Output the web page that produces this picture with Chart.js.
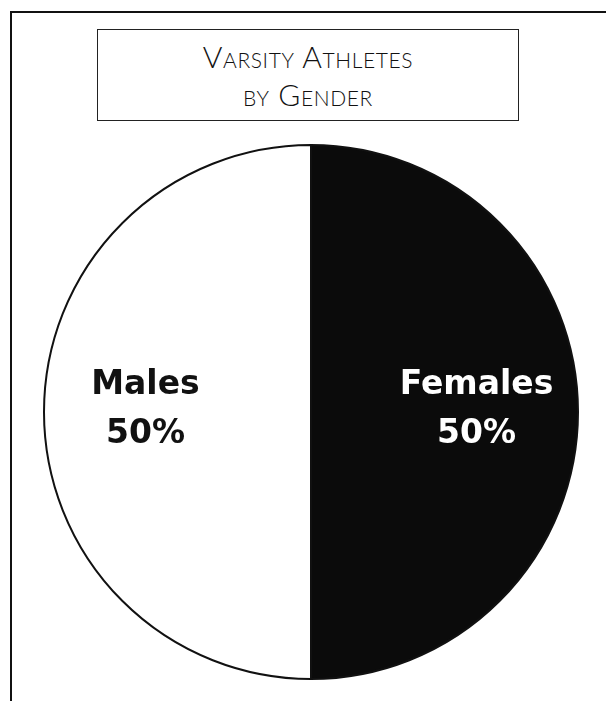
<!DOCTYPE html>
<html>
<head>
<meta charset="utf-8">
<script src="https://cdn.jsdelivr.net/npm/chart.js@4/dist/chart.umd.min.js"></script>
<style>
  html, body { margin: 0; padding: 0; background: #fff; }
  body { width: 606px; height: 701px; position: relative; overflow: hidden; }
  #frame {
    position: absolute; left: 10px; top: 11px; width: 600px; height: 720px;
    border-left: 2px solid #111; border-top: 2px solid #111;
  }
  #titleBox {
    position: absolute; left: 97px; top: 29px; width: 422px; height: 92px;
    border: 1.5px solid #222;
    font-family: Lato, "Open Sans", sans-serif; font-weight: 300;
    font-variant: small-caps; font-size: 30px; line-height: 38px;
    letter-spacing: 0.6px; color: #111; text-align: center;
    padding-top: 7px; box-sizing: border-box;
  }
  #pieWrap { position: absolute; left: 41px; top: 142px; width: 540px; height: 540px; }
</style>
</head>
<body>
<div id="frame"></div>
<div id="titleBox">Varsity Athletes<br>by Gender</div>
<div id="pieWrap"><canvas id="pieChart"></canvas></div>
<script>
const categories = ['Males', 'Females'];
const shares = [50, 50];
const sliceColors = ['#ffffff', '#0b0b0b'];
const labelColors = ['#111111', '#ffffff'];

// write "Males 50%" / "Females 50%" inside each slice
const sliceLabels = {
  id: 'sliceLabels',
  afterDatasetsDraw(chart) {
    const ctx = chart.ctx;
    const meta = chart.getDatasetMeta(0);
    ctx.save();
    ctx.font = 'bold 33px "DejaVu Sans", sans-serif';
    ctx.textAlign = 'center';
    ctx.textBaseline = 'alphabetic';
    meta.data.forEach((arc, i) => {
      const mid = (arc.startAngle + arc.endAngle) / 2;
      const r = arc.outerRadius * 0.62;
      const x = arc.x + Math.cos(mid) * r;
      const y = arc.y + Math.sin(mid) * r;
      ctx.fillStyle = labelColors[i];
      ctx.fillText(categories[i], x, y - 18);
      ctx.fillText(shares[i] + '%', x, y + 31);
    });
    ctx.restore();
  }
};

new Chart(document.getElementById('pieChart').getContext('2d'), {
  type: 'pie',
  data: {
    labels: categories,
    datasets: [{
      data: shares,
      backgroundColor: sliceColors,
      borderColor: '#111',
      borderWidth: 2
    }]
  },
  options: {
    responsive: true,
    maintainAspectRatio: false,
    animation: false,
    rotation: 180,
    layout: { padding: 2 },
    plugins: {
      legend: { display: false },
      tooltip: { enabled: false },
      title: { display: false }
    }
  },
  plugins: [sliceLabels]
});
</script>
</body>
</html>
